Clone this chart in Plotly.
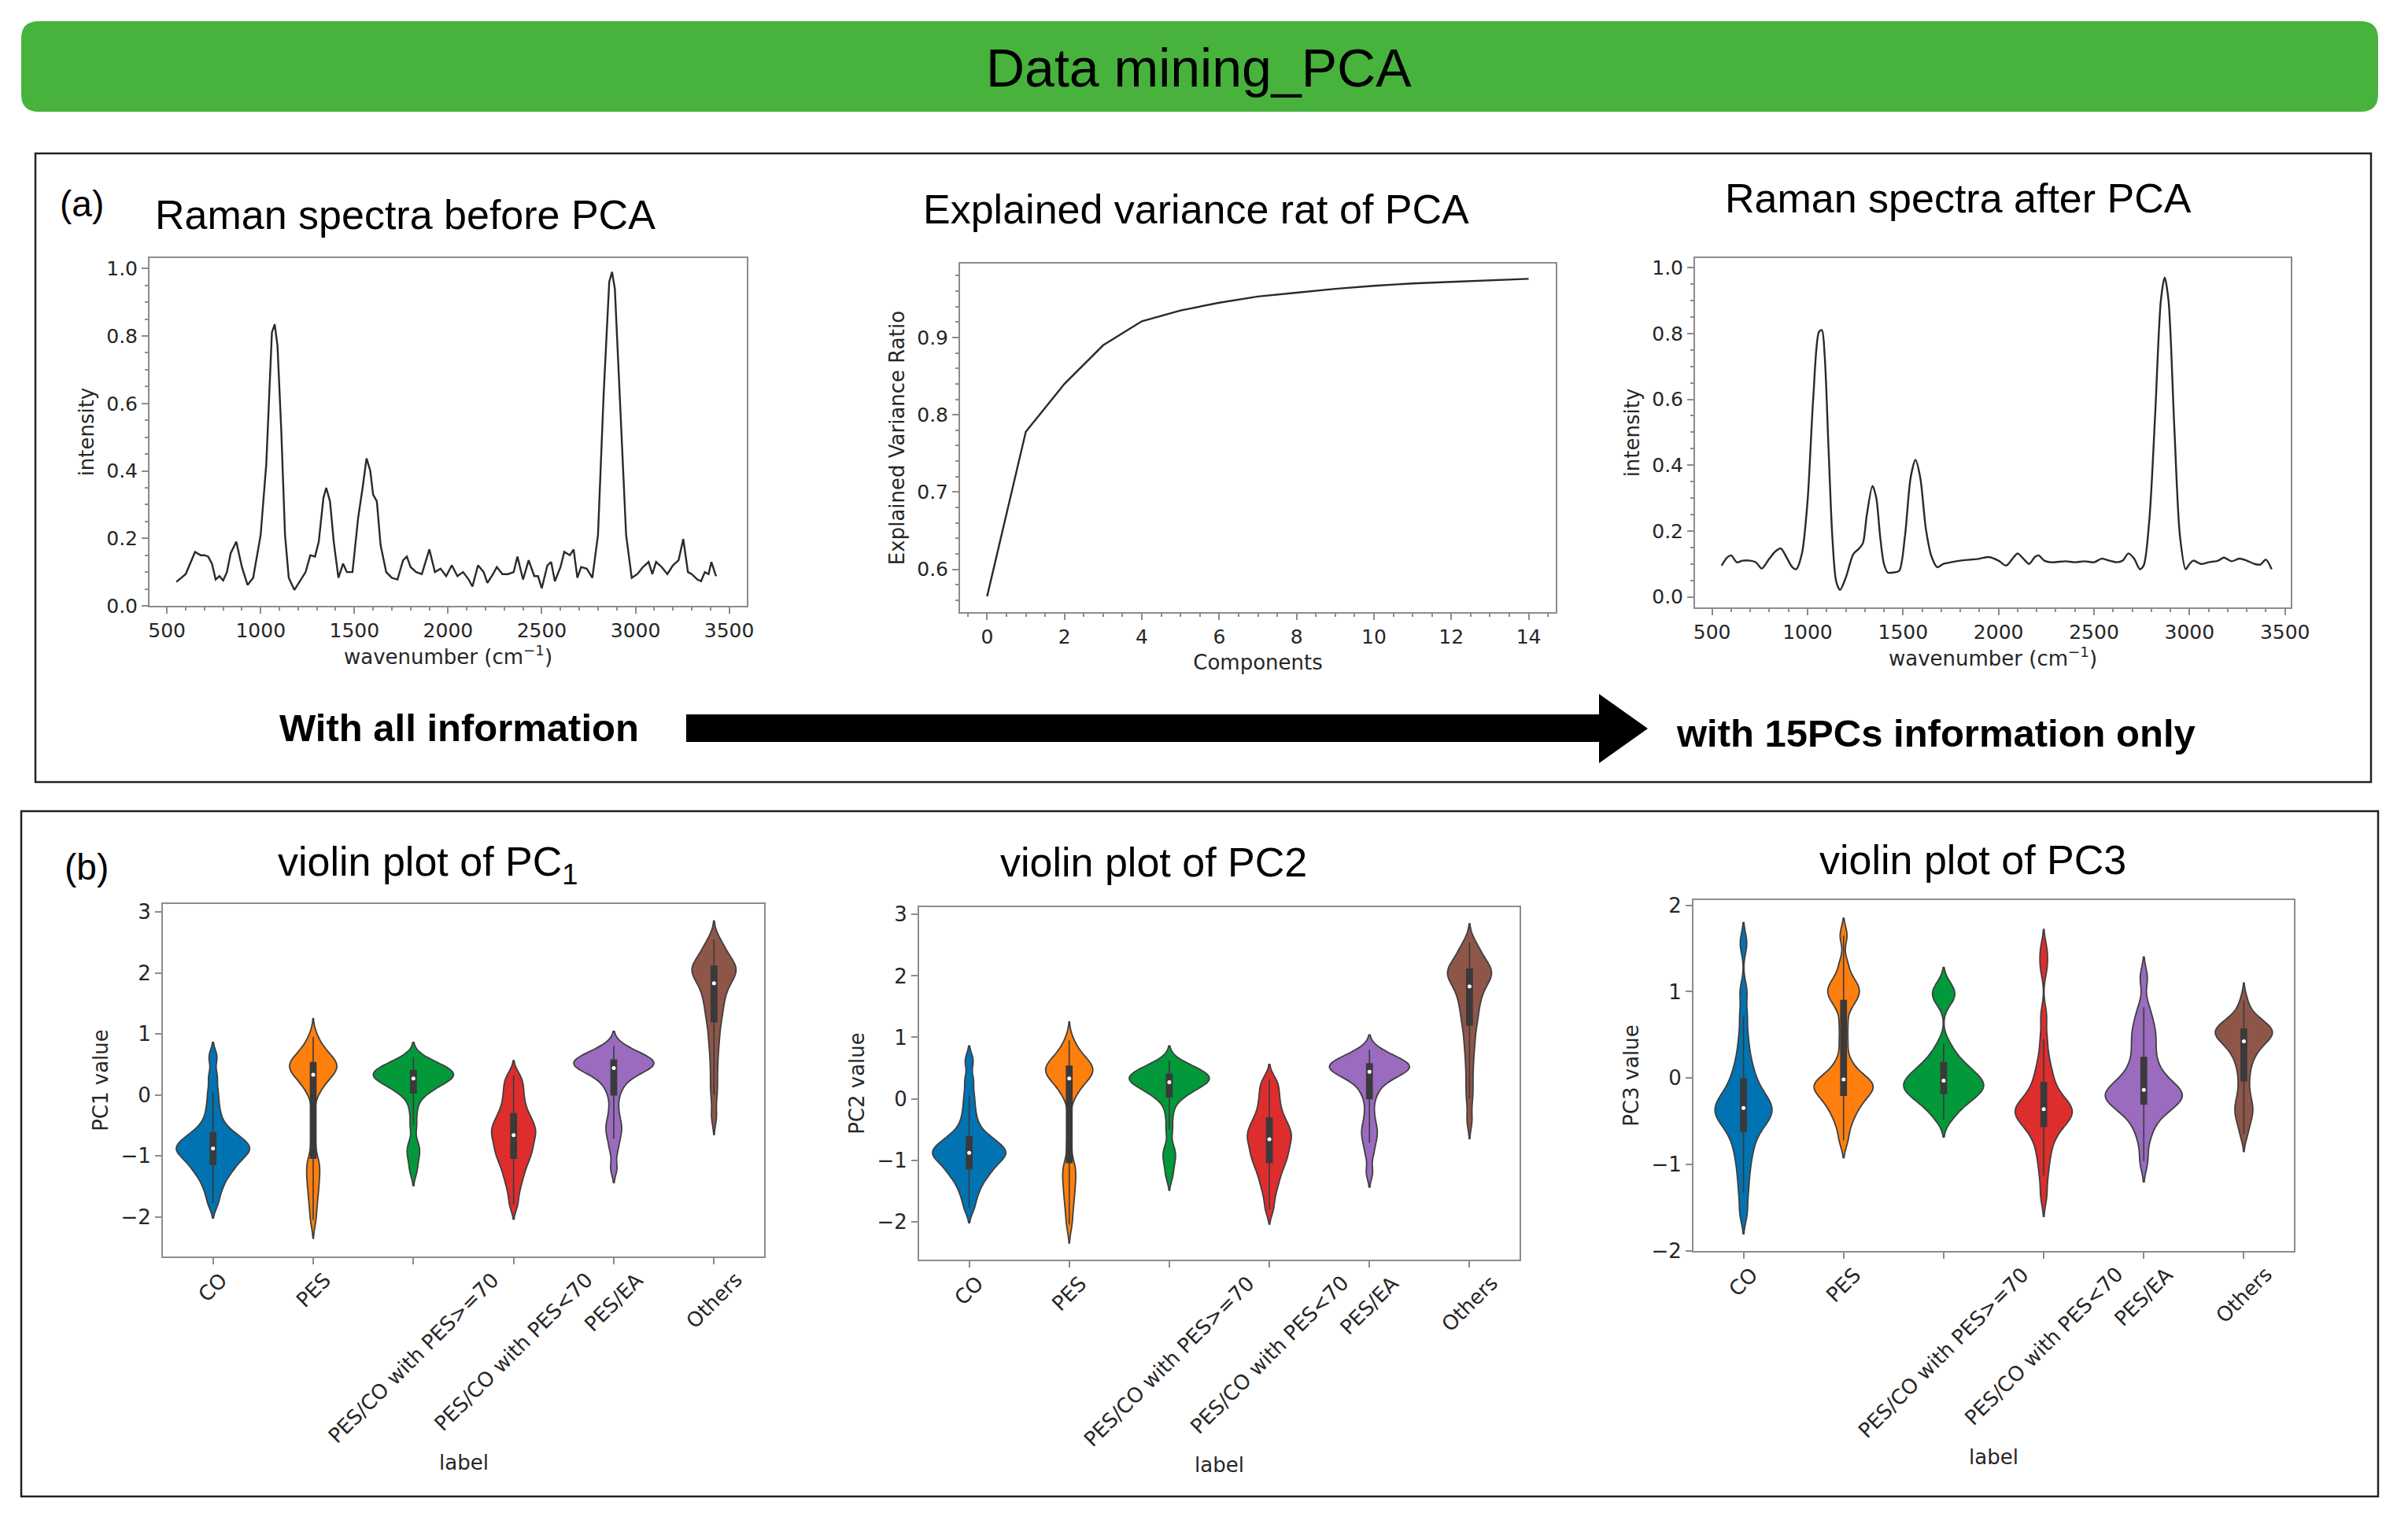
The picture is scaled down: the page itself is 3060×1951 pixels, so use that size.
import numpy as np
import plotly.graph_objects as go

W, H = 3060, 1951

# ---------------- data ----------------
# Raman spectrum before PCA (wavenumber cm^-1, intensity)
before_x = [550, 600, 650, 680, 700, 720, 740, 760, 780, 800, 820, 840, 870, 900, 930, 960,
            1000, 1030, 1060, 1075, 1090, 1110, 1130, 1150, 1180, 1210, 1240, 1265, 1290, 1310,
            1335, 1350, 1370, 1390, 1415, 1440, 1460, 1490, 1520, 1545, 1565, 1585, 1600, 1620,
            1640, 1670, 1700, 1730, 1760, 1780, 1800, 1830, 1860, 1900, 1930, 1960, 1990, 2020,
            2050, 2080, 2110, 2130, 2160, 2190, 2210, 2240, 2260, 2290, 2320, 2350, 2370, 2400,
            2430, 2460, 2480, 2500, 2530, 2550, 2570, 2600, 2620, 2650, 2670, 2690, 2710, 2740,
            2770, 2800, 2830, 2860, 2875, 2890, 2920, 2950, 2980, 3010, 3040, 3070, 3090, 3110,
            3140, 3170, 3200, 3230, 3255, 3280, 3300, 3330, 3350, 3370, 3390, 3405, 3430]
before_y = [0.071, 0.094, 0.16, 0.15, 0.15, 0.146, 0.125, 0.078, 0.088, 0.075, 0.10, 0.156, 0.19,
            0.115, 0.062, 0.083, 0.21, 0.42, 0.81, 0.835, 0.77, 0.52, 0.21, 0.083, 0.047, 0.073,
            0.10, 0.15, 0.146, 0.19, 0.32, 0.35, 0.31, 0.19, 0.083, 0.125, 0.10, 0.10, 0.26, 0.354,
            0.437, 0.40, 0.33, 0.31, 0.18, 0.10, 0.083, 0.078, 0.135, 0.146, 0.115, 0.10, 0.094,
            0.167, 0.10, 0.11, 0.088, 0.12, 0.088, 0.10, 0.078, 0.057, 0.12, 0.10, 0.068, 0.094,
            0.115, 0.094, 0.094, 0.10, 0.146, 0.078, 0.135, 0.088, 0.088, 0.052, 0.12, 0.13, 0.073,
            0.115, 0.16, 0.15, 0.167, 0.083, 0.115, 0.11, 0.083, 0.21, 0.625, 0.96, 0.99, 0.94,
            0.57, 0.21, 0.083, 0.094, 0.115, 0.13, 0.094, 0.13, 0.115, 0.094, 0.12, 0.135, 0.198,
            0.10, 0.094, 0.078, 0.073, 0.10, 0.094, 0.13, 0.088]

# Raman spectrum reconstructed from 15 PCs
after_x = [550, 580, 600, 630, 660, 700, 730, 760, 800, 830, 860, 890, 920, 940, 970, 1000, 1030,
           1060, 1075, 1090, 1110, 1130, 1150, 1170, 1200, 1240, 1270, 1290, 1310, 1340, 1360,
           1380, 1400, 1420, 1450, 1480, 1510, 1540, 1565, 1590, 1620, 1650, 1680, 1710, 1750,
           1800, 1850, 1900, 1950, 2000, 2040, 2080, 2100, 2130, 2160, 2190, 2210, 2240, 2280,
           2350, 2400, 2450, 2500, 2540, 2580, 2620, 2650, 2680, 2710, 2740, 2760, 2790, 2820,
           2850, 2870, 2890, 2920, 2950, 2980, 3000, 3020, 3060, 3100, 3150, 3180, 3220, 3260,
           3300, 3340, 3370, 3400, 3430]
after_y = [0.095, 0.12, 0.126, 0.105, 0.11, 0.11, 0.105, 0.086, 0.116, 0.137, 0.147, 0.12, 0.09,
           0.084, 0.13, 0.29, 0.605, 0.805, 0.81, 0.73, 0.45, 0.18, 0.047, 0.021, 0.058, 0.13,
           0.147, 0.163, 0.247, 0.337, 0.30, 0.184, 0.10, 0.074, 0.074, 0.079, 0.184, 0.363,
           0.416, 0.363, 0.205, 0.121, 0.09, 0.10, 0.105, 0.11, 0.113, 0.116, 0.121, 0.11, 0.095,
           0.121, 0.132, 0.116, 0.10, 0.121, 0.126, 0.11, 0.105, 0.108, 0.105, 0.108, 0.105,
           0.116, 0.11, 0.105, 0.11, 0.132, 0.116, 0.084, 0.095, 0.237, 0.553, 0.90, 0.97, 0.90,
           0.52, 0.184, 0.084, 0.10, 0.11, 0.10, 0.105, 0.11, 0.119, 0.108, 0.116, 0.11, 0.10,
           0.098, 0.113, 0.084]

# cumulative explained variance ratio
components = list(range(15))
explained_var = [0.565, 0.778, 0.840, 0.890, 0.921, 0.935, 0.945, 0.953, 0.958, 0.963,
                 0.967, 0.970, 0.972, 0.974, 0.976]

categories = ["CO", "PES", "PES/CO with PES>=70", "PES/CO with PES<70", "PES/EA", "Others"]
violin_colors = ["#0173B2", "#FF7F0E", "#02993A", "#DE2D2D", "#9A6BBF", "#8E5649"]

pc1_values = [
    [-1.78, -1.6, -1.48, -1.38, -1.3, -1.24, -1.19, -1.14, -1.09, -1.05, -1.01, -0.97, -0.94,
     -0.91, -0.89, -0.87, -0.84, -0.81, -0.78, -0.74, -0.7, -0.66, -0.62, -0.55, -0.45, -0.32,
     -0.15, 0.05, 0.3, 0.62],
    [-2.05, -1.82, -1.64, -1.5, -1.37, -1.25, -1.14, -1.04, -0.72, -0.35, 0.02, 0.12, 0.2, 0.26,
     0.31, 0.35, 0.38, 0.41, 0.44, 0.46, 0.48, 0.5, 0.53, 0.56, 0.59, 0.63, 0.68, 0.74, 0.82, 0.95],
    [-1.25, -1.05, -0.92, -0.8, -0.5, -0.25, -0.05, 0.03, 0.08, 0.12, 0.16, 0.19, 0.22, 0.24,
     0.26, 0.28, 0.3, 0.31, 0.33, 0.34, 0.36, 0.38, 0.4, 0.42, 0.44, 0.46, 0.49, 0.52, 0.56, 0.62],
    [-1.8, -1.6, -1.45, -1.35, -1.25, -1.17, -1.1, -1.04, -0.98, -0.93, -0.88, -0.83, -0.78,
     -0.73, -0.68, -0.64, -0.6, -0.56, -0.52, -0.47, -0.42, -0.37, -0.31, -0.24, -0.16, -0.07,
     0.02, 0.12, 0.22, 0.32],
    [-1.2, -0.9, -0.72, -0.6, -0.5, -0.38, -0.2, 0.0, 0.12, 0.22, 0.28, 0.33, 0.37, 0.4, 0.43,
     0.45, 0.47, 0.49, 0.5, 0.52, 0.53, 0.55, 0.57, 0.59, 0.61, 0.63, 0.66, 0.7, 0.75, 0.8],
    [-0.35, 0.0, 0.25, 0.5, 0.72, 0.9, 1.05, 1.2, 1.3, 1.4, 1.5, 1.58, 1.66, 1.73, 1.8, 1.86,
     1.9, 1.95, 1.99, 2.02, 2.05, 2.08, 2.11, 2.15, 2.19, 2.24, 2.3, 2.38, 2.45, 2.55],
]
# the PC2 panel shows the same distributions as PC1
pc2_values = [list(v) for v in pc1_values]
pc3_values = [
    [-1.56, -1.33, -1.15, -1.0, -0.88, -0.78, -0.7, -0.62, -0.57, -0.52, -0.48, -0.45, -0.42,
     -0.39, -0.36, -0.33, -0.3, -0.27, -0.23, -0.19, -0.14, -0.08, -0.01, 0.07, 0.17, 0.3, 0.48,
     0.72, 1.0, 1.56],
    [-0.72, -0.56, -0.46, -0.39, -0.33, -0.28, -0.24, -0.2, -0.17, -0.14, -0.11, -0.09, -0.07,
     -0.05, -0.03, 0.0, 0.05, 0.12, 0.22, 0.42, 0.62, 0.82, 0.9, 0.96, 1.0, 1.04, 1.09, 1.16,
     1.32, 1.65],
    [-0.48, -0.4, -0.34, -0.3, -0.26, -0.23, -0.2, -0.18, -0.16, -0.14, -0.12, -0.1, -0.08,
     -0.06, -0.04, -0.02, 0.0, 0.02, 0.05, 0.08, 0.11, 0.14, 0.18, 0.23, 0.3, 0.4, 0.88, 0.95,
     1.0, 1.08],
    [-1.36, -1.13, -0.97, -0.85, -0.75, -0.67, -0.61, -0.56, -0.52, -0.49, -0.46, -0.43, -0.41,
     -0.39, -0.37, -0.35, -0.33, -0.3, -0.27, -0.23, -0.18, -0.12, -0.05, 0.03, 0.12, 0.25,
     0.45, 0.72, 1.28, 1.48],
    [-0.96, -0.72, -0.58, -0.49, -0.42, -0.37, -0.33, -0.3, -0.27, -0.25, -0.23, -0.21, -0.19,
     -0.17, -0.15, -0.12, -0.09, -0.06, -0.02, 0.03, 0.09, 0.16, 0.24, 0.33, 0.42, 0.5, 0.58,
     0.68, 0.82, 1.16],
    [-0.65, -0.52, -0.44, -0.38, -0.32, -0.25, -0.15, -0.03, 0.08, 0.17, 0.24, 0.3, 0.34, 0.38,
     0.41, 0.44, 0.47, 0.49, 0.51, 0.52, 0.53, 0.55, 0.57, 0.58, 0.6, 0.63, 0.66, 0.7, 0.76, 0.9],
]
pc12_bandwidth = [0.12, 0.15, 0.12, 0.12, 0.12, 0.15]
pc3_bandwidth = [0.12, 0.1, 0.1, 0.12, 0.12, 0.1]
# maximal violin widths (category units), as drawn in the reference (area-normalised look)
pc12_widths = [0.73, 0.47, 0.8, 0.44, 0.8, 0.44]
pc3_widths = [0.57, 0.59, 0.8, 0.57, 0.77, 0.57]

# ---------------- helpers ----------------
def px(x):
    return x / W

def py(y):
    return 1 - y / H

TICK_FONT = dict(family="DejaVu Sans", size=25, color="#262626")
VTICK_FONT = dict(family="DejaVu Sans", size=26, color="#262626")
TITLE_FONT = dict(family="DejaVu Sans", size=26, color="#262626")
SPINE = "#8c8c8c"

def axis(domain_px, horizontal, **kw):
    if horizontal:
        dom = [px(domain_px[0]), px(domain_px[1])]
    else:
        dom = [py(domain_px[1]), py(domain_px[0])]
    d = dict(domain=dom, showline=True, mirror=True, linecolor=SPINE, linewidth=2,
             ticks="outside", ticklen=8, tickwidth=2, tickcolor=SPINE, showgrid=False,
             zeroline=False, tickfont=TICK_FONT, automargin=False)
    d.update(kw)
    return d

def minor(dt):
    return dict(ticks="outside", ticklen=4, tickwidth=1.5, tickcolor=SPINE, dtick=dt, showgrid=False)

fig = go.Figure()

# ---------------- panel (a) ----------------
fig.add_trace(go.Scatter(x=before_x, y=before_y, mode="lines",
                         line=dict(color="#2a2a2a", width=2.4), xaxis="x", yaxis="y"))
fig.add_trace(go.Scatter(x=components, y=explained_var, mode="lines",
                         line=dict(color="#2a2a2a", width=2.4), xaxis="x2", yaxis="y2"))
fig.add_trace(go.Scatter(x=after_x, y=after_y, mode="lines", line_shape="spline",
                         line=dict(color="#2a2a2a", width=2.4, smoothing=0.8),
                         xaxis="x3", yaxis="y3"))

spec_title = dict(text="wavenumber (cm<sup>−1</sup>)", font=TITLE_FONT, standoff=10)
layout_axes = {}
layout_axes["xaxis"] = axis((190, 949), True, anchor="y", range=[407, 3594], dtick=500,
                            tick0=500, minor=minor(100), title=spec_title)
layout_axes["yaxis"] = axis((328, 770), False, anchor="x", range=[0.0, 1.031], dtick=0.2,
                            tickformat=".1f", minor=minor(0.05),
                            title=dict(text="intensity", font=TITLE_FONT, standoff=8))
layout_axes["xaxis2"] = axis((1220, 1977), True, anchor="y2", range=[-0.7, 14.7], dtick=2,
                             minor=minor(0.5),
                             title=dict(text="Components", font=TITLE_FONT, standoff=10))
layout_axes["yaxis2"] = axis((335, 778), False, anchor="x2", range=[0.5445, 0.9957], dtick=0.1,
                             tickformat=".1f", minor=minor(0.02),
                             title=dict(text="Explained Variance Ratio", font=TITLE_FONT, standoff=8))
layout_axes["xaxis3"] = axis((2154, 2911), True, anchor="y3", range=[411, 3530], dtick=500,
                             tick0=500, minor=minor(100), title=spec_title)
layout_axes["yaxis3"] = axis((328, 772), False, anchor="x3", range=[-0.032, 1.029], dtick=0.2,
                             tickformat=".1f", minor=minor(0.05),
                             title=dict(text="intensity", font=TITLE_FONT, standoff=8))

# ---------------- panel (b) violins ----------------
violin_sets = [
    (4, pc1_values, pc12_bandwidth, pc12_widths, (207, 971), (1149, 1597), [-2.65, 3.13], "PC1 value"),
    (5, pc2_values, pc12_bandwidth, pc12_widths, (1168, 1931), (1153, 1601), [-2.62, 3.12], "PC2 value"),
    (6, pc3_values, pc3_bandwidth, pc3_widths, (2152, 2915), (1144, 1590), [-2.0, 2.06], "PC3 value"),
]
annotations = []
for k, values, bws, wids, xdom, ydom, yr, ytitle in violin_sets:
    for i, (vals, col, bw, wd) in enumerate(zip(values, violin_colors, bws, wids)):
        fig.add_trace(go.Violin(
            y=vals, x0=i, width=wd, bandwidth=bw, spanmode="soft",
            scalemode="width", side="both", points=False,
            fillcolor=col, opacity=1, line=dict(color="#3f3f3f", width=1.8),
            box=dict(visible=True, width=0.056 / wd, fillcolor="#3a3a3a",
                     line=dict(color="#3a3a3a", width=1.6)),
            meanline=dict(visible=False),
            xaxis=f"x{k}", yaxis=f"y{k}", showlegend=False, hoverinfo="skip"))
        fig.add_trace(go.Scatter(x=[i], y=[float(np.median(vals))], mode="markers",
                                 marker=dict(color="white", size=5),
                                 xaxis=f"x{k}", yaxis=f"y{k}", showlegend=False))
        annotations.append(dict(x=i, xref=f"x{k}", y=0, yref=f"y{k} domain", text=categories[i],
                                textangle=-45, xanchor="center", yanchor="top", yshift=-12,
                                showarrow=False, font=VTICK_FONT))
    layout_axes[f"xaxis{k}"] = axis(xdom, True, anchor=f"y{k}", range=[-0.5, 5.5],
                                    tickvals=list(range(6)), showticklabels=False)
    layout_axes[f"yaxis{k}"] = axis(ydom, False, anchor=f"x{k}", range=yr, dtick=1,
                                    tickfont=VTICK_FONT,
                                    title=dict(text=ytitle, font=TITLE_FONT, standoff=8))

label_y = {4: 1859, 5: 1862, 6: 1852}
for k, yy in label_y.items():
    annotations.append(dict(x=0.5, xref=f"x{k} domain", y=py(yy), yref="paper", text="label",
                            xanchor="center", yanchor="middle", showarrow=False, font=TITLE_FONT))

# ---------------- texts ----------------
HEAD = "Liberation Sans, Arial, sans-serif"
def txt(x, y, s, size, bold=False, xanchor="center"):
    return dict(x=px(x), y=py(y), xref="paper", yref="paper", text=f"<b>{s}</b>" if bold else s,
                showarrow=False, xanchor=xanchor, yanchor="middle",
                font=dict(family=HEAD, size=size, color="black"))

annotations += [
    txt(1523, 86, "Data mining_PCA", 68),
    txt(104, 259, "(a)", 46),
    txt(515, 273, "Raman spectra before PCA", 52),
    txt(1520, 266, "Explained variance rat of PCA", 52),
    txt(2488, 252, "Raman spectra after PCA", 52),
    txt(583, 925, "With all information", 49, bold=True),
    txt(2460, 932, "with 15PCs information only", 49, bold=True),
    txt(110, 1102, "(b)", 46),
    txt(544, 1099, "violin plot of PC<sub>1</sub>", 52),
    txt(1466, 1096, "violin plot of PC2", 52),
    txt(2507, 1093, "violin plot of PC3", 52),
]

# ---------------- shapes ----------------
def pt(x, y):
    return f"{px(x):.5f},{py(y):.5f}"

x0, x1, y0, y1, r = 27, 3022, 27, 142, 22
banner = (f"M {pt(x0 + r, y0)} L {pt(x1 - r, y0)} Q {pt(x1, y0)} {pt(x1, y0 + r)} "
          f"L {pt(x1, y1 - r)} Q {pt(x1, y1)} {pt(x1 - r, y1)} L {pt(x0 + r, y1)} "
          f"Q {pt(x0, y1)} {pt(x0, y1 - r)} L {pt(x0, y0 + r)} Q {pt(x0, y0)} {pt(x0 + r, y0)} Z")
arrow = (f"M {pt(872, 908)} L {pt(2032, 908)} L {pt(2032, 882)} L {pt(2094, 926)} "
         f"L {pt(2032, 970)} L {pt(2032, 943)} L {pt(872, 943)} Z")
shapes = [
    dict(type="path", path=banner, xref="paper", yref="paper", fillcolor="#47B23C",
         line=dict(width=0), layer="below"),
    dict(type="rect", xref="paper", yref="paper", x0=px(45), x1=px(3013), y0=py(994), y1=py(195),
         line=dict(color="#222222", width=2.5), fillcolor="rgba(0,0,0,0)"),
    dict(type="rect", xref="paper", yref="paper", x0=px(27), x1=px(3022), y0=py(1902), y1=py(1031),
         line=dict(color="#222222", width=2.5), fillcolor="rgba(0,0,0,0)"),
    dict(type="path", path=arrow, xref="paper", yref="paper", fillcolor="black",
         line=dict(width=0)),
]

fig.update_layout(
    width=W, height=H, margin=dict(l=0, r=0, t=0, b=0), template="none",
    paper_bgcolor="white", plot_bgcolor="white", showlegend=False,
    violinmode="overlay", annotations=annotations, shapes=shapes, **layout_axes)

fig.write_html("out.html", config={"displayModeBar": False},
               post_script="document.body.style.margin='0px';")
